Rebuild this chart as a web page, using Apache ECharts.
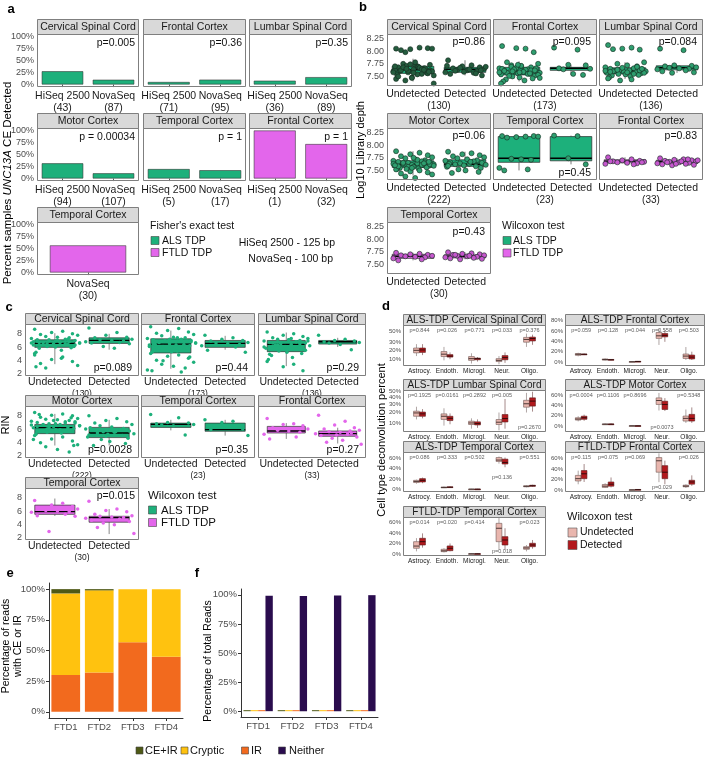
<!DOCTYPE html>
<html><head><meta charset="utf-8">
<script src="https://cdn.jsdelivr.net/npm/echarts@6/dist/echarts.min.js"></script>
<style>html,body{margin:0;padding:0;background:#fff}#c{width:707px;height:758px}</style>
</head><body><div id="c"></div>
<script>
// ================= DATA =================
// Panel a
const A_FACETS = ['Cervical Spinal Cord','Frontal Cortex','Lumbar Spinal Cord','Motor Cortex','Temporal Cortex','Frontal Cortex','Temporal Cortex'];
const A_GROUP = ['ALS TDP','ALS TDP','ALS TDP','ALS TDP','ALS TDP','FTLD TDP','FTLD TDP'];
const A_PLATFORMS = [['HiSeq 2500','NovaSeq'],['HiSeq 2500','NovaSeq'],['HiSeq 2500','NovaSeq'],['HiSeq 2500','NovaSeq'],['HiSeq 2500','NovaSeq'],['HiSeq 2500','NovaSeq'],['NovaSeq']];
const A_N = [[43,87],[71,95],[36,89],[94,107],[5,17],[1,32],[30]];
const A_PCT = [[27.9,10.3],[5.6,10.5],[8.3,15.7],[31.9,11.2],[20.0,17.6],[100,71.9],[56.7]];
const A_P = ['p=0.005','p=0.36','p=0.35','p = 0.00034','p = 1','p = 1',''];
const A_YTICKS = [0,25,50,75,100];

// Panel b (Log10 library depth)
const B_FACETS = A_FACETS;
const B_GROUP = A_GROUP;
const B_CATS = ['Undetected','Detected'];
const B_N = [130,173,136,222,23,33,30];
const B_P = ['p=0.86','p=0.095','p=0.084','p=0.06','p=0.45','p=0.83','p=0.43'];
const B_YTICKS = [7.5,7.75,8,8.25];
const B_BOX_U = [[7.40,7.56,7.63,7.70,7.85],[7.40,7.53,7.60,7.68,7.80],[7.45,7.55,7.61,7.67,7.78],[7.40,7.56,7.62,7.69,7.88],[7.50,7.66,7.74,8.17,8.18],[7.62,7.65,7.68,7.71,7.76],[7.58,7.62,7.66,7.70,7.73]];
const B_BOX_D = [[7.52,7.58,7.64,7.68,7.82],[7.53,7.62,7.66,7.68,7.73],[7.57,7.63,7.67,7.71,7.72],[7.45,7.58,7.62,7.71,7.87],[7.62,7.69,7.74,8.17,8.19],[7.60,7.64,7.67,7.70,7.74],[7.60,7.63,7.66,7.69,7.74]];
const B_PTS_U = [
 [8.05,8.07,8.04,8.06,8.02,8.05,7.98,7.72,7.65,7.60,7.55,7.68,7.62,7.58,7.70,7.75,7.52,7.48,7.66,7.63,7.59,7.71,7.64,7.57,7.61,7.69,7.53,7.45,7.67,7.74,7.56,7.62,7.60,7.42,7.78,7.66,7.58,7.64,7.50,7.73,7.61,7.54,7.68,7.36,7.47,7.63,7.70,7.59,7.65,7.57],
 [8.10,8.05,8.06,7.98,7.78,7.75,7.72,7.70,7.68,7.66,7.64,7.62,7.61,7.60,7.59,7.58,7.57,7.56,7.55,7.54,7.52,7.50,7.48,7.46,7.44,7.42,7.40,7.65,7.63,7.67,7.60,7.57,7.53,7.69,7.71,7.62,7.58,7.55,7.61,7.66,7.64,7.59,7.51,7.47,7.73,7.56,7.36,7.62,7.60,7.58],
 [8.12,8.07,8.05,8.03,8.04,7.78,7.75,7.72,7.70,7.68,7.66,7.65,7.64,7.63,7.62,7.61,7.60,7.59,7.58,7.57,7.56,7.55,7.54,7.53,7.52,7.50,7.48,7.46,7.44,7.67,7.62,7.60,7.57,7.63,7.58,7.69,7.61,7.55,7.59,7.65,7.42],
 [7.88,7.85,7.82,7.80,7.78,7.76,7.74,7.72,7.70,7.69,7.68,7.67,7.66,7.65,7.64,7.63,7.62,7.61,7.60,7.60,7.59,7.58,7.57,7.56,7.55,7.54,7.53,7.52,7.50,7.48,7.46,7.44,7.42,7.38,7.35,7.66,7.63,7.61,7.58,7.62,7.57,7.71,7.65,7.59,7.55,7.64,7.60,7.67,7.53,7.75],
 [8.18,8.17,8.16,8.18,8.15,8.17,7.73,7.72,7.71,7.55,7.52,7.50],
 [7.76,7.72,7.70,7.69,7.68,7.67,7.66,7.65,7.64,7.63,7.62,7.68,7.66],
 [7.73,7.71,7.70,7.69,7.68,7.67,7.66,7.65,7.64,7.62,7.60,7.58]
];
const B_PTS_D = [
 [7.82,7.72,7.70,7.68,7.66,7.65,7.63,7.62,7.60,7.58,7.57,7.55,7.52,7.67,7.64,7.61,7.69,7.59,7.56,7.71,7.62],
 [8.07,8.03,7.73,7.72,7.66,7.65,7.64,7.55,7.53],
 [8.05,8.02,7.72,7.71,7.70,7.68,7.67,7.66,7.65,7.64,7.62,7.60,7.58,7.57],
 [7.87,7.84,7.82,7.80,7.78,7.76,7.74,7.72,7.70,7.69,7.68,7.66,7.65,7.64,7.63,7.62,7.61,7.60,7.58,7.57,7.55,7.52,7.50,7.47,7.45,7.67,7.63,7.59],
 [8.19,8.18,7.74,7.62],
 [7.74,7.72,7.71,7.70,7.69,7.68,7.67,7.66,7.65,7.64,7.63,7.62,7.61,7.60,7.68,7.66,7.70,7.63,7.72],
 [7.74,7.72,7.71,7.70,7.69,7.68,7.67,7.66,7.65,7.64,7.63,7.62,7.61,7.60,7.67,7.69]
];

// Panel c (RIN)
const C_FACETS = A_FACETS;
const C_GROUP = A_GROUP;
const C_CATS = ['Undetected','Detected'];
const C_N = [130,173,136,222,23,33,30];
const C_P = ['p=0.089','p=0.44','p=0.29','p=0.0028','p=0.35','p=0.27','p=0.015'];
const C_YTICKS = [2,4,6,8];
const C_BOX_U = [[3.4,5.95,6.55,7.1,8.1],[2.7,5.1,6.45,7.25,8.5],[3.1,5.3,6.4,7.0,8.2],[3.5,5.3,6.2,6.7,8.3],[5.8,6.25,6.7,6.9,7.4],[4.5,5.4,5.7,6.4,6.9],[5.25,5.5,5.9,6.9,7.9]];
const C_BOX_D = [[5.6,6.55,7.0,7.4,8.0],[5.6,5.95,6.55,7.0,7.7],[6.0,6.45,6.8,7.0,7.4],[3.5,4.7,5.4,6.25,7.4],[5.0,5.66,5.9,6.9,7.4],[3.8,4.9,5.3,5.7,6.2],[2.5,4.3,5.0,5.2,6.3]];
const C_PTS_U = [
 [8.7,8.4,8.2,8.0,7.9,7.8,7.6,7.5,7.4,7.3,7.2,7.1,7.0,6.9,6.8,6.7,6.6,6.5,6.4,6.3,6.2,6.1,6.0,5.9,5.8,5.5,5.2,4.8,4.5,4.1,3.8,3.5,3.2,2.8,7.0,6.8,6.6,6.5,6.9,6.3,7.1,6.7,6.4,6.6,6.2,7.2,6.8,6.1,6.5,6.9,6.0,6.7,4.3,3.0,5.0],
 [9.1,8.8,8.5,8.3,8.1,7.9,7.7,7.5,7.4,7.3,7.2,7.1,7.0,6.9,6.8,6.7,6.6,6.5,6.4,6.3,6.2,6.1,6.0,5.8,5.6,5.4,5.2,5.0,4.8,4.6,4.3,4.0,3.7,3.4,3.1,2.8,2.5,2.2,6.5,6.8,7.0,6.3,5.9,6.6,7.2,5.5,6.1,4.5,3.9,5.3,6.9,6.4,7.4,2.4],
 [8.3,8.0,7.8,7.6,7.4,7.3,7.2,7.1,7.0,6.9,6.8,6.7,6.6,6.5,6.4,6.3,6.2,6.1,6.0,5.8,5.6,5.4,5.2,5.0,4.7,4.4,4.1,3.8,3.4,3.0,2.4,6.6,6.9,6.3,7.1,6.5,6.0,6.8,4.9,5.5,6.7,7.3],
 [8.5,8.3,8.1,8.0,7.8,7.6,7.5,7.4,7.3,7.2,7.1,7.0,6.9,6.8,6.7,6.6,6.5,6.4,6.3,6.2,6.1,6.0,5.9,5.8,5.6,5.4,5.2,5.0,4.8,4.5,4.2,3.9,3.6,3.3,2.9,2.5,6.6,6.9,6.4,7.1,6.2,5.9,6.7,6.5,7.3,6.0,4.4,3.5,5.5,6.8,7.7,8.2],
 [8.2,7.7,7.0,6.9,6.8,6.7,6.6,6.5,5.1],
 [7.6,6.8,6.7,6.5,6.2,6.0,5.8,5.7,5.5,5.2,4.8,4.5],
 [7.6,7.2,6.9,6.7,6.5,6.3,6.1,6.0,5.9,5.8,5.5,5.3,5.2,2.9]
];
const C_PTS_D = [
 [8.9,8.2,7.8,7.5,7.4,7.2,7.1,7.0,6.9,6.8,6.7,6.6,6.5,6.1,5.8],
 [7.8,7.4,7.2,7.0,6.9,6.7,6.6,6.5,6.4,6.2,6.0,5.5,5.2],
 [7.8,7.2,7.0,6.9,6.8,6.7,6.6,6.4,5.6],
 [8.0,7.6,7.3,7.1,6.9,6.7,6.5,6.3,6.1,6.0,5.9,5.8,5.7,5.6,5.5,5.4,5.3,5.2,5.0,4.8,4.6,4.4,4.1,3.8,3.5,5.6,6.2,5.1,5.8,4.9],
 [7.4,7.2,7.0,6.0,5.9,5.0],
 [8.1,7.2,6.6,6.2,6.0,5.8,5.6,5.5,5.4,5.3,5.2,5.0,4.8,4.6,4.3,4.0,3.7,5.1,5.7],
 [7.5,6.3,6.1,5.9,5.5,5.3,5.2,5.1,5.0,4.9,4.8,4.6,4.4,4.2,3.9,3.5,2.6]
];

// Panel d (cell type deconvolution, percent; each box = [min,q1,median,q3,max])
const D_FACETS = ['ALS-TDP Cervical Spinal Cord','ALS-TDP Frontal Cortex','ALS-TDP Lumbar Spinal Cord','ALS-TDP Motor Cortex','ALS-TDP Temporal Cortex','FTLD-TDP Frontal Cortex','FTLD-TDP Temporal Cortex'];
const D_CELLS = ['Astrocy.','Endoth.','Microgl.','Neur.','Oligo.'];
const D_UND = [
 [[13,16.5,19.5,22.5,28],[9,12.5,15,18,24],[6.5,9,10.5,12.5,16],[6,8,9,10.5,13],[24,31,35.5,39,46]],
 [[11,13,15,16.5,18],[3,3.8,4.8,6,7],[0,0.3,0.6,0.9,1.5],[33,45.6,50.6,57,65],[4,7,11.5,15.5,29]],
 [[13,16,19.5,21.5,27],[8,13,16,18.5,25],[6,8.8,10,11.4,14],[5,8.8,10.6,12.9,20],[20,26.4,31,36,48]],
 [[9,11.5,13.5,16,19],[2,3,3.5,4,5],[0,0.2,0.4,0.6,1],[30,41.7,49.4,54.4,64],[6,9.6,14.8,19.2,32]],
 [[11,13.3,15.5,17.6,19],[2.5,3,3.8,4.5,5.5],[0,0.2,0.4,0.6,1],[50,54.3,57,61.9,64],[4,5,6,7,8]],
 [[11,17.3,21.7,27.9,37],[4,5,7.4,10.6,13],[0,0.2,0.4,0.6,1],[15,34,55.8,61.9,70],[4,6.2,7.5,9.3,11]],
 [[5,10.8,15,23.3,30],[3,4.4,6,8.9,11],[0,0.2,0.4,0.6,1],[8,23.3,48.7,58,68],[5,8.9,11.4,13.8,17]]
];
const D_DET = [
 [[14,17,20,22.5,28],[10,12,13,14.5,17],[8,9.5,10.5,11,12],[7,9.5,11.5,13.5,17],[27,33,37,39.5,44]],
 [[13.5,14.5,15,15.5,16.5],[3.5,4,4.5,5,5.5],[0.5,0.8,1.1,1.4,2],[39,48.6,51.5,55,61.5],[4,6,9.6,13.5,20]],
 [[14,16,18.5,20.5,24],[9,12,14,16,19],[6.5,8.5,9.5,10.9,13],[6,10.8,13.8,17.8,38],[21,27.8,34.8,39.8,50]],
 [[10,13,16,19,22],[2.5,3,3.5,4,5],[0,0.2,0.4,0.6,1],[29,32,41.7,48,54],[6,9.6,14.8,22.5,36]],
 [[12,14.4,17.6,20.9,23],[3,3.5,4.2,5,6],[0,0.2,0.4,0.6,1],[43,49.3,52.4,58.8,62],[5,6,7,8,9]],
 [[15.4,21.7,31,37.2,49.6],[5,7.4,11.2,15.4,24],[0.2,0.5,0.8,1.1,1.6],[11,21.7,34,46.5,56],[8,11.2,15.4,18.6,28]],
 [[12,17,23.3,29.7,39],[5,6.3,10.8,15.2,20],[0,0.2,0.4,0.6,1],[8,17,26.5,32.8,48.7],[10,13.8,17,20.3,26.5]]
];
const D_P = [
 ['p=0.844','p=0.026','p=0.771','p=0.033','p=0.376'],
 ['p=0.059','p=0.128','p=0.044','p=0.558','p=0.503'],
 ['p=0.1925','p=0.0161','p=0.2892','p=0.005','p=0.2670'],
 ['p=0.0004','p=0.1106','p=0.8696','p=0.0073','p=0.5348'],
 ['p=0.086','p=0.333','p=0.502','p=0.136','p=0.551'],
 ['p=0.115','p=0.075','p=0.069','p=0.029','p=0.026'],
 ['p=0.014','p=0.020','p=0.414','p=0.018','p=0.023']
];

// Panel e (stacked percent of reads with CE or IR)
const E_CATS = ['FTD1','FTD2','FTD3','FTD4'];
const E_IR = [30.0,32.0,56.7,45.0];
const E_CRYPTIC = [66.5,67.0,43.3,55.0];
const E_CEIR = [3.5,1.0,0,0];
// Panel f (percent of total reads)
const F_CEIR = [0.02,0.02,0.01,0.01];
const F_CRYPTIC = [0.5,0.6,0.3,0.2];
const F_IR = [0.3,0.4,0.3,0.1];
const F_NEITHER = [99.2,99.0,99.4,99.7];
const EF_YTICKS = [0,25,50,75,100];

// ================= STYLE / LAYOUT =================
const FONT = '"Liberation Sans", Arial, Helvetica, sans-serif';
const GREEN = '#1DB07B', MAGENTA = '#E366EB';
const UND_COL = '#E9B6AE', DET_COL = '#B3191D';
const CEIR_COL = '#4E5916', CRY_COL = '#FFC20F', IR_COL = '#F26A1E', NEI_COL = '#2A0C4E';
const JIT = [-0.31,0.12,-0.05,0.27,-0.22,0.35,-0.14,0.04,0.22,-0.36,0.16,-0.27,0.31,-0.09,0.08,-0.18,0.38,-0.02,0.2,-0.33,0.29,-0.12,0.01,0.25,-0.24,0.1,-0.29];

const GRIDS=[], XA=[], YA=[], SER=[], GR=[];
function addGrid(l,t,w,h){GRIDS.push({left:l,top:t,width:w,height:h}); return GRIDS.length-1;}
function rect(x,y,w,h,fill,stroke,z,lw){GR.push({type:'rect',shape:{x:x,y:y,width:w,height:h},style:{fill:fill,stroke:stroke,lineWidth:lw==null?1:lw},z:z||50,silent:true});}
function text(x,y,str,o){o=o||{};const st={text:str,fontFamily:FONT,fontSize:o.size||10.5,fill:o.color||'#1a1a1a',
  textAlign:o.align||'left',align:o.align||'left',textVerticalAlign:o.valign||'middle',verticalAlign:o.valign||'middle',fontWeight:o.weight||'normal'};
  if(o.rich) st.rich=o.rich;
  GR.push({type:'text',x:x,y:y,rotation:o.rot||0,style:st,z:o.z||60,silent:true});}
function border(l,t,w,h){rect(l+0.5,t+0.5,w-1,h-1,'none','#7f7f7f',55,1);}
function strip(l,t,w,h,name,size){rect(l+0.5,t+0.5,w-1,h,'#d9d9d9','#7f7f7f',52,1);text(l+w/2,t+h/2+1,name,{align:'center',size:size,color:'#1a1a1a',z:58});}
function noTick(){return {show:false};}
function boxSeries(gi,data,o){
  return {type:'custom',xAxisIndex:gi,yAxisIndex:gi,data:data,encode:{x:0,y:[1,2,3,4,5]},z:2,clip:true,silent:true,
    renderItem:function(params,api){
      const x=api.value(0)+(o.off||0);
      const pLo=api.coord([x,api.value(1)]),pQ1=api.coord([x,api.value(2)]),pMd=api.coord([x,api.value(3)]),pQ3=api.coord([x,api.value(4)]),pHi=api.coord([x,api.value(5)]);
      const hw=api.size([o.hw,0])[0];const cx=pLo[0];
      return {type:'group',children:[
        {type:'line',shape:{x1:cx,y1:pHi[1],x2:cx,y2:pQ3[1]},style:{stroke:o.wh,lineWidth:o.lw}},
        {type:'line',shape:{x1:cx,y1:pQ1[1],x2:cx,y2:pLo[1]},style:{stroke:o.wh,lineWidth:o.lw}},
        {type:'rect',shape:{x:cx-hw,y:pQ3[1],width:2*hw,height:Math.max(0.8,pQ1[1]-pQ3[1])},style:{fill:o.fill,stroke:o.stroke,lineWidth:o.lw}},
        {type:'line',shape:{x1:cx-hw,y1:pMd[1],x2:cx+hw,y2:pMd[1]},style:{stroke:o.med,lineWidth:o.mw}}
      ]};
    }};
}
function jitter(ys,x0,wd){return ys.map(function(y,k){return [x0+JIT[k%JIT.length]*wd,y];});}
const POS7 = [[0,0],[0,1],[0,2],[1,0],[1,1],[1,2],[2,0]];
function catAxisLabel(cats,size,margin){return {customValues:cats.map(function(c,k){return k;}),formatter:function(v){return cats[Math.round(v)];},
  fontSize:size,color:'#1a1a1a',margin:margin,fontFamily:FONT,showMinLabel:true,showMaxLabel:true,hideOverlap:false};}

// ---------- Panel a ----------
const A_COLX=[37,143,249], A_COLW=[102,103,103], A_ROWY=[19,113,207], A_SH=15, A_PH=53;
A_FACETS.forEach(function(name,i){
  const r=POS7[i][0], c=POS7[i][1];
  const l=A_COLX[c], w=A_COLW[c], st=A_ROWY[r], t=st+A_SH, h=A_PH;
  const gi=addGrid(l,t,w,h); const n=A_PLATFORMS[i].length;
  const col=A_GROUP[i]==='ALS TDP'?GREEN:MAGENTA;
  XA.push({gridIndex:gi,type:'category',data:A_PLATFORMS[i].map(function(p,k){return p+'\n('+A_N[i][k]+')';}),
    axisLine:{show:false},axisTick:{show:true,alignWithLabel:true,length:2.5,lineStyle:{color:'#333',width:0.8}},
    axisLabel:{interval:0,fontSize:10.5,lineHeight:12,color:'#1a1a1a',margin:3,fontFamily:FONT}});
  YA.push({gridIndex:gi,type:'value',min:-5,max:105,splitLine:{show:false},axisLine:{show:false},axisTick:noTick(),
    axisLabel:{show:c===0,customValues:A_YTICKS,formatter:function(v){return v+'%';},fontSize:9,color:'#4d4d4d',margin:3,fontFamily:FONT}});
  SER.push({type:'bar',xAxisIndex:gi,yAxisIndex:gi,data:A_PCT[i],barWidth:0.9*w/(n+0.2),silent:true,
    itemStyle:{color:col,borderColor:'rgba(50,50,50,0.7)',borderWidth:0.8}});
  border(l,t,w,h); strip(l,st,w,A_SH,name,10.5);
  if(A_P[i]) text(l+w-4,t+9,A_P[i],{align:'right',size:10.5,color:'#111'});
});
text(11,9,'a',{align:'center',size:13,weight:'bold',color:'#000'});
text(8,183,'{n|Percent samples }{i|UNC13A}{n| CE Detected}',{rot:Math.PI/2,align:'center',size:11.5,color:'#000',
  rich:{n:{fontSize:11.5,fontFamily:FONT,fill:'#000',color:'#000'},i:{fontSize:11.5,fontFamily:FONT,fontStyle:'italic',fill:'#000',color:'#000'}}});
text(150,226,"Fisher's exact test",{size:10.5,color:'#111'});
rect(151,236.5,8,8,GREEN,'#444',60,0.6); text(162,241,'ALS TDP',{size:10.5,color:'#111'});
rect(151,248.5,8,8,MAGENTA,'#444',60,0.6); text(162,253,'FTLD TDP',{size:10.5,color:'#111'});
text(335,243.5,'HiSeq 2500 - 125 bp',{align:'right',size:10.5,color:'#111'});
text(333,259,'NovaSeq - 100 bp',{align:'right',size:10.5,color:'#111'});

// ---------- Panel b ----------
const B_COLX=[387,493,599], B_W=104, B_ROWY=[19,113,207], B_SH=15, B_PH=52, B_YMIN=7.31, B_YMAX=8.34;
const B_PBOTTOM=[4];
B_FACETS.forEach(function(name,i){
  const r=POS7[i][0], c=POS7[i][1];
  const l=B_COLX[c], w=B_W, st=B_ROWY[r], t=st+B_SH, h=B_PH;
  const gi=addGrid(l,t,w,h);
  const col=B_GROUP[i]==='ALS TDP'?GREEN:MAGENTA;
  const ptCol = i===0?'#245C3E':(B_GROUP[i]==='ALS TDP'?'#2E9E6F':'#C657CE');
  XA.push({gridIndex:gi,type:'value',min:-0.5,max:1.5,splitLine:{show:false},axisLine:{show:false},axisTick:noTick(),
    axisLabel:catAxisLabel(B_CATS,10.5,3),
    name:'('+B_N[i]+')',nameLocation:'middle',nameGap:14,nameTextStyle:{fontSize:10,color:'#1a1a1a',fontFamily:FONT}});
  YA.push({gridIndex:gi,type:'value',min:B_YMIN,max:B_YMAX,splitLine:{show:false},axisLine:{show:false},axisTick:noTick(),
    axisLabel:{show:c===0,customValues:B_YTICKS,formatter:function(v){return v.toFixed(2);},fontSize:9,color:'#4d4d4d',margin:3,fontFamily:FONT}});
  SER.push(boxSeries(gi,[[0].concat(B_BOX_U[i]),[1].concat(B_BOX_D[i])],{hw:0.40,fill:col,stroke:'#2a2a2a',wh:'#444',lw:0.7,med:'#000',mw:1.5}));
  SER.push({type:'scatter',xAxisIndex:gi,yAxisIndex:gi,data:jitter(B_PTS_U[i],0,1.05).concat(jitter(B_PTS_D[i],1,1.05)),symbolSize:5,z:3,silent:true,clip:true,
    itemStyle:{color:ptCol,borderColor:'#142a1e',borderWidth:0.6,opacity:1}});
  border(l,t,w,h); strip(l,st,w,B_SH,name,10.5);
  if(B_PBOTTOM.indexOf(i)>=0) text(l+w-6,t+h-7,B_P[i],{align:'right',size:10.5,color:'#111'});
  else text(l+w-6,t+(r===2?10:8),B_P[i],{align:'right',size:10.5,color:'#111'});
});
text(363,7,'b',{align:'center',size:13,weight:'bold',color:'#000'});
text(361,150,'Log10 Library depth',{rot:Math.PI/2,align:'center',size:11,color:'#000'});
text(502,226,'Wilcoxon test',{size:10.5,color:'#111'});
rect(503,236.5,8,8,GREEN,'#444',60,0.6); text(513,241,'ALS TDP',{size:10.5,color:'#111'});
rect(503,249,8,8,MAGENTA,'#444',60,0.6); text(513,253.5,'FTLD TDP',{size:10.5,color:'#111'});

// ---------- Panel c ----------
const C_COLX=[25,141,258], C_COLW=[114,114,108], C_ROWY=[313,395,477], C_SH=11, C_PH=52, C_YMIN=1.6, C_YMAX=9.5;
const C_PTOP=[6];
C_FACETS.forEach(function(name,i){
  const r=POS7[i][0], c=POS7[i][1];
  const l=C_COLX[c], w=C_COLW[c], st=C_ROWY[r], t=st+C_SH, h=C_PH;
  const gi=addGrid(l,t,w,h);
  const col=C_GROUP[i]==='ALS TDP'?GREEN:MAGENTA;
  XA.push({gridIndex:gi,type:'value',min:-0.55,max:1.55,splitLine:{show:false},axisLine:{show:false},axisTick:noTick(),
    axisLabel:catAxisLabel(C_CATS,10.5,1),
    name:'('+C_N[i]+')',nameLocation:'middle',nameGap:9,nameTextStyle:{fontSize:8.5,color:'#1a1a1a',fontFamily:FONT}});
  YA.push({gridIndex:gi,type:'value',min:C_YMIN,max:C_YMAX,splitLine:{show:false},axisLine:{show:false},axisTick:noTick(),
    axisLabel:{show:c===0,customValues:C_YTICKS,fontSize:9,color:'#4d4d4d',margin:3,fontFamily:FONT}});
  SER.push(boxSeries(gi,[[0].concat(C_BOX_U[i]),[1].concat(C_BOX_D[i])],{hw:0.37,fill:col,stroke:'#333',wh:'#555',lw:0.7,med:'#000',mw:1.3}));
  SER.push({type:'scatter',xAxisIndex:gi,yAxisIndex:gi,data:jitter(C_PTS_U[i],0,1.2).concat(jitter(C_PTS_D[i],1,1.2)),symbolSize:3.5,z:3,silent:true,clip:true,
    itemStyle:{color:col,opacity:1}});
  border(l,t,w,h); strip(l,st,w,C_SH,name,10.5);
  if(C_PTOP.indexOf(i)>=0) text(l+w-4,t+8,C_P[i],{align:'right',size:10.5,color:'#111'});
  else text(l+w-7,t+h-8,C_P[i],{align:'right',size:10.5,color:'#111'});
});
text(9,307,'c',{align:'center',size:13,weight:'bold',color:'#000'});
text(6,425,'RIN',{rot:Math.PI/2,align:'center',size:11,color:'#000'});
text(148,496,'Wilcoxon test',{size:11.5,color:'#111'});
rect(148.5,506,8,8,GREEN,'#444',60,0.6); text(161,510.5,'ALS TDP',{size:11.5,color:'#111'});
rect(148.5,518.5,8,8,MAGENTA,'#444',60,0.6); text(161,523,'FTLD TDP',{size:11.5,color:'#111'});

// ---------- Panel d ----------
const D_COLX=[403,565], D_COLW=[143,140], D_ROWY=[314,379,441,506], D_SH=11, D_PH=[41,42,40,39];
const D_POS=[[0,0],[0,1],[1,0],[1,1],[2,0],[2,1],[3,0]];
const D_AX=[
 {sqrt:true,min:2.2,max:8.0,ticks:[10,20,30,40,50],ext:0},
 {sqrt:false,min:-7.6,max:88.8,ticks:[0,20,40,60,80],ext:9},
 {sqrt:true,min:2.03,max:7.29,ticks:[10,20,30,40,50],ext:0},
 {sqrt:false,min:-11.6,max:69.7,ticks:[0,20,40,60],ext:0},
 {sqrt:false,min:-5.1,max:72.7,ticks:[0,20,40,60],ext:0},
 {sqrt:false,min:-3.7,max:72.5,ticks:[0,20,40,60],ext:0},
 {sqrt:false,min:-3.8,max:70,ticks:[0,20,40,60],ext:0}
];
// p-label placement: 'b' = near bottom, number = percent value, default top
const D_PPLACE={'2_4':'b','3_3':'b','4_3':24,'5_3':'b','6_3':'b'};
D_FACETS.forEach(function(name,i){
  const r=D_POS[i][0], c=D_POS[i][1], ax=D_AX[i];
  const l=D_COLX[c], w=D_COLW[c], st=D_ROWY[r], t=st+D_SH, h=D_PH[r];
  const gi=addGrid(l,t-ax.ext,w,h+ax.ext);
  const tf=function(v){return ax.sqrt?Math.sqrt(Math.max(0,v)):v;};
  const tv=ax.ticks.map(tf);
  XA.push({gridIndex:gi,type:'value',min:-0.6,max:4.6,splitLine:{show:false},axisLine:{show:false},axisTick:noTick(),
    axisLabel:catAxisLabel(D_CELLS,6.5,2)});
  YA.push({gridIndex:gi,type:'value',min:ax.min,max:ax.max,splitLine:{show:false},axisLine:{show:false},axisTick:noTick(),
    axisLabel:{customValues:tv,formatter:function(v){return Math.round(ax.sqrt?v*v:v)+'%';},fontSize:6,color:'#4d4d4d',margin:2,fontFamily:FONT,showMinLabel:true,showMaxLabel:true}});
  const tb=function(b){return b.map(tf);};
  SER.push(boxSeries(gi,D_UND[i].map(function(b,k){return [k].concat(tb(b));}),{off:-0.11,hw:0.105,fill:UND_COL,stroke:'#6e5552',wh:'#7a6a68',lw:0.6,med:'#3b2a28',mw:0.9}));
  SER.push(boxSeries(gi,D_DET[i].map(function(b,k){return [k].concat(tb(b));}),{off:0.11,hw:0.105,fill:DET_COL,stroke:'#5a1a1a',wh:'#6a3a3a',lw:0.6,med:'#2a0a0a',mw:0.9}));
  const gH=h+ax.ext, gTop=t-ax.ext;
  const pxToVal=function(px){return ax.min+(gTop+gH-px)/gH*(ax.max-ax.min);};
  const pdata=D_P[i].map(function(p,k){
    const pl=D_PPLACE[i+'_'+k];
    let y;
    if(pl==='b') y=pxToVal(t+h-5); else if(typeof pl==='number') y=tf(pl); else y=pxToVal(t+5);
    return [k,y,p];
  });
  SER.push({type:'scatter',xAxisIndex:gi,yAxisIndex:gi,data:pdata,symbolSize:0,z:5,silent:true,
    label:{show:true,position:'inside',formatter:function(p){return p.value[2];},fontSize:5.5,color:'#333',fontFamily:FONT}});
  border(l,t,w,h); strip(l,st,w,D_SH,name,10);
});
text(386,306,'d',{align:'center',size:13,weight:'bold',color:'#000'});
text(382,440,'Cell type deconvolution percent',{rot:Math.PI/2,align:'center',size:11,color:'#000'});
text(567,517,'Wilcoxon test',{size:11,color:'#111'});
rect(568,528,9,9,UND_COL,'#555',60,0.6); text(580,532.5,'Undetected',{size:10.5,color:'#111'});
rect(568,540.5,9,9,DET_COL,'#555',60,0.6); text(580,545,'Detected',{size:10.5,color:'#111'});

// ---------- Panel e ----------
const eL=49,eT=583,eW=134,eH=135;
const giE=addGrid(eL,eT,eW,eH);
XA.push({gridIndex:giE,type:'category',data:E_CATS,axisLine:{show:true,onZero:false,lineStyle:{color:'#333',width:1}},
  axisTick:{show:true,alignWithLabel:true,length:3,lineStyle:{color:'#333'}},axisLabel:{fontSize:9.5,color:'#4d4d4d',margin:4,fontFamily:FONT}});
YA.push({gridIndex:giE,type:'value',min:-5,max:105,splitLine:{show:false},axisLine:{show:true,onZero:false,lineStyle:{color:'#333',width:1}},
  axisTick:{show:true,customValues:EF_YTICKS,length:3,lineStyle:{color:'#333'}},axisLabel:{customValues:EF_YTICKS,formatter:function(v){return v+'%';},fontSize:9.5,color:'#4d4d4d',margin:4,fontFamily:FONT}});
const eBW=0.9*eW/4.2;
[['IR',E_IR,IR_COL],['Cryptic',E_CRYPTIC,CRY_COL],['CE+IR',E_CEIR,CEIR_COL]].forEach(function(s){
  SER.push({type:'bar',name:s[0],xAxisIndex:giE,yAxisIndex:giE,stack:'e',data:s[1],barWidth:eBW,silent:true,itemStyle:{color:s[2]}});
});
text(10,573,'e',{align:'center',size:13,weight:'bold',color:'#000'});
text(6,646,'Percentage of reads',{rot:Math.PI/2,align:'center',size:10.5,color:'#000'});
text(18,646,'with CE or IR',{rot:Math.PI/2,align:'center',size:10.5,color:'#000'});

// ---------- Panel f ----------
const fL=241,fT=589,fW=137,fH=128;
const giF=addGrid(fL,fT,fW,fH);
XA.push({gridIndex:giF,type:'category',data:E_CATS,axisLine:{show:true,onZero:false,lineStyle:{color:'#333',width:1}},
  axisTick:{show:true,alignWithLabel:true,length:3,lineStyle:{color:'#333'}},axisLabel:{fontSize:9.5,color:'#4d4d4d',margin:4,fontFamily:FONT}});
YA.push({gridIndex:giF,type:'value',min:-5,max:105,splitLine:{show:false},axisLine:{show:true,onZero:false,lineStyle:{color:'#333',width:1}},
  axisTick:{show:true,customValues:EF_YTICKS,length:3,lineStyle:{color:'#333'}},axisLabel:{customValues:EF_YTICKS,formatter:function(v){return v+'%';},fontSize:9.5,color:'#4d4d4d',margin:4,fontFamily:FONT}});
const fBW=0.9*fW/4.2/4;
[['CE+IR',F_CEIR,CEIR_COL],['Cryptic',F_CRYPTIC,CRY_COL],['IR',F_IR,IR_COL],['Neither',F_NEITHER,NEI_COL]].forEach(function(s){
  SER.push({type:'bar',name:s[0],xAxisIndex:giF,yAxisIndex:giF,data:s[1],barWidth:fBW,barGap:'0%',barMinHeight:1,silent:true,itemStyle:{color:s[2]}});
});
text(197,573,'f',{align:'center',size:13,weight:'bold',color:'#000'});
text(208,661,'Percentage of total Reads',{rot:Math.PI/2,align:'center',size:10.5,color:'#000'});

// shared legend e/f
rect(136,747,7,7,CEIR_COL,'#444',60,0.6); text(145,751,'CE+IR',{size:11,color:'#111'});
rect(181,747,7,7,CRY_COL,'#444',60,0.6); text(190,751,'Cryptic',{size:11,color:'#111'});
rect(241.5,747,7,7,IR_COL,'#444',60,0.6); text(251,751,'IR',{size:11,color:'#111'});
rect(278.5,747,7,7,NEI_COL,'#444',60,0.6); text(289,751,'Neither',{size:11,color:'#111'});

const chart=echarts.init(document.getElementById('c'),null,{renderer:'canvas'});
chart.setOption({animation:false,backgroundColor:'#fff',textStyle:{fontFamily:FONT},grid:GRIDS,xAxis:XA,yAxis:YA,series:SER,graphic:{elements:GR}});
</script></body></html>
